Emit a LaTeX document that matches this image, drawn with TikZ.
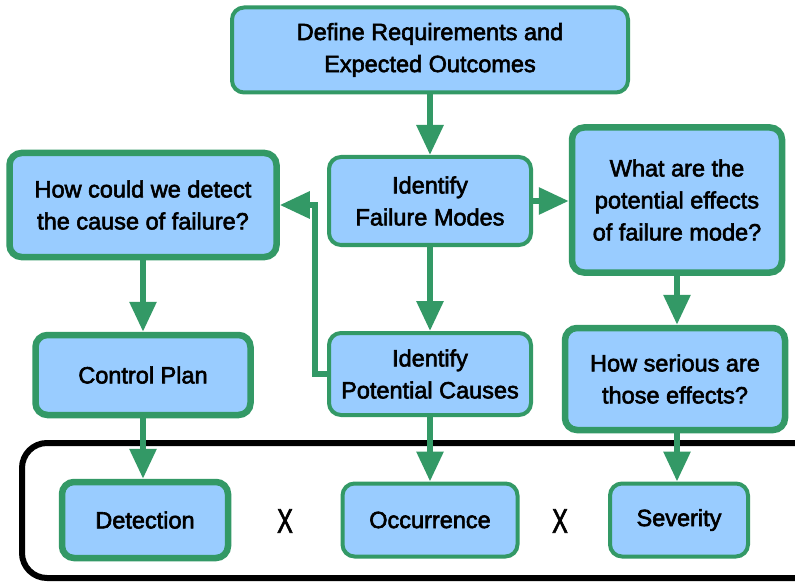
\documentclass[tikz,border=0pt]{standalone}
\usepackage{fontspec}
\usepackage{graphicx}
\setmainfont{Liberation Sans}[RawFeature={embolden=2.5}]
\usetikzlibrary{arrows.meta,positioning,calc}
\definecolor{boxgreen}{RGB}{51,153,102}
\definecolor{boxblue}{RGB}{153,204,255}
\tikzset{
  box/.style={rectangle, rounded corners=12pt, draw=boxgreen, fill=boxblue, line width=4pt,
    align=center, font=\fontsize{23.5}{32}\selectfont, inner sep=0pt},
  thickbox/.style={box, line width=6.5pt},
  flow/.style={draw=boxgreen, line width=6pt, -{Triangle[length=30pt,width=26pt]}},
  times/.style={font=\fontsize{23.5}{32}\selectfont, inner sep=0pt},
}

\begin{document}
\begin{tikzpicture}[x=1pt,y=1pt]
  \clip (0,0) rectangle (795,582);
  \fill[white] (0,0) rectangle (795,582);

  \node (define) [box, minimum width=396pt, minimum height=85pt] at (430,532) {Define Requirements and\\Expected Outcomes};
  \node (modes) [box, minimum width=202pt, minimum height=88pt] at (430,381) {Identify\\Failure Modes};
  \node (detect) [thickbox, minimum width=267pt, minimum height=104pt] at (143,377) {How could we detect\\the cause of failure?};
  \node (effects) [thickbox, minimum width=210pt, minimum height=145pt] at (677,382) {What are the\\potential effects\\of failure mode?};
  \node (control) [thickbox, minimum width=215pt, minimum height=80pt] at (143,207) {Control Plan};
  \node (causes) [box, minimum width=202pt, minimum height=82pt] at (430,208) {Identify\\Potential Causes};
  \node (serious) [thickbox, minimum width=220pt, minimum height=102pt] at (675,203) {How serious are\\those effects?};

  \draw[black, line width=6pt, rounded corners=25pt] (22,4) rectangle (830,139);

  \node (detection) [thickbox, minimum width=166pt, minimum height=76pt] at (145,62) {Detection};
  \node (times1) [times] at (285,61) {\scalebox{1}[1.45]{X}};
  \node (occurrence) [box, minimum width=175pt, minimum height=73pt] at (430,62) {Occurrence};
  \node (times2) [times] at (560,61) {\scalebox{1}[1.45]{X}};
  \node (severity) [box, minimum width=138pt, minimum height=73pt] at (679,62) {Severity};

  % main flow
  \draw[flow] (define) -- (modes);
  \draw[flow] (modes) -- (causes);
  \draw[flow] (modes.east) -- (effects.west |- modes.east);
  \draw[flow] (effects.south) -- (effects.south |- serious.north);
  \draw[flow] (detect) -- (control);
  \draw[flow] (control.south) -- (control.south |- detection.north);
  \draw[flow] (causes) -- (occurrence);
  \draw[flow] (effects.south |- serious.south) -- (effects.south |- severity.north);
  \draw[flow] (causes.west) -- ++(-12,0) |- (detect.east);
\end{tikzpicture}
\end{document}
